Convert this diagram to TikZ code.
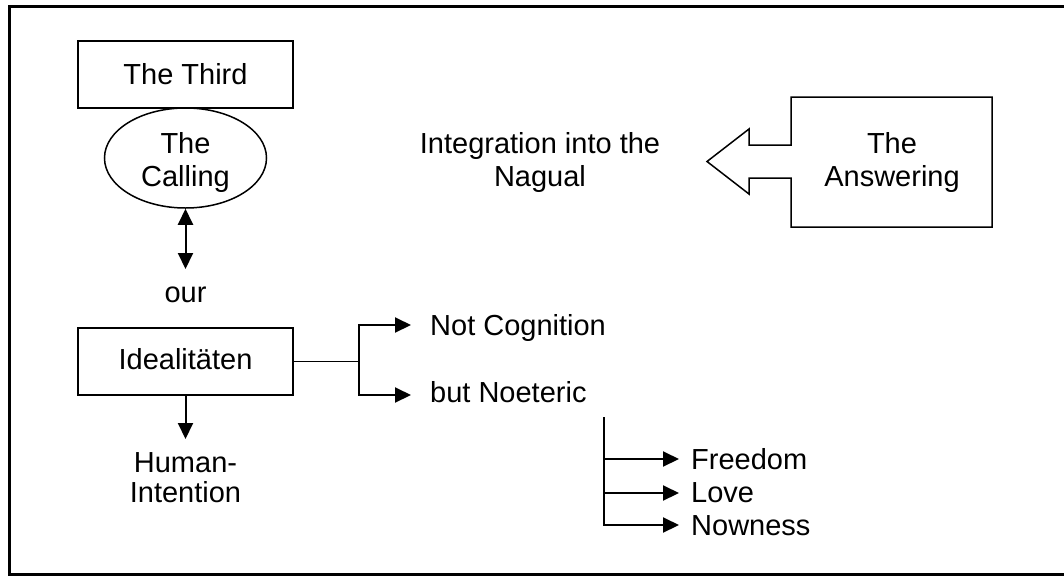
\documentclass[tikz,border=0pt]{standalone}
\usepackage{fontspec}
\setmainfont{Liberation Sans}
\usetikzlibrary{shapes.geometric,arrows.meta}
\begin{document}
\begin{tikzpicture}[x=1pt,y=-1pt,
  txt/.style={font=\fontsize{29}{33}\selectfont, inner sep=0pt, align=center},
  boxshape/.style={draw, line width=1.5pt, inner sep=0pt, minimum width=215pt, minimum height=67pt},
  arr/.style={line width=2pt, -{Triangle[length=16pt,width=15pt]}},
  dbl/.style={line width=2pt, {Triangle[length=16pt,width=15pt]}-{Triangle[length=16pt,width=15pt]}},
  plain/.style={line width=1.5pt}]
\useasboundingbox (0,0) rectangle (1064,576);
\draw[line width=3pt] (9.5,6.5) rectangle (1075,574);

% left column
\node[boxshape, txt, text depth=2pt] (third) at (185.5,74.5) {The Third};
\node[draw, ellipse, line width=1.5pt, inner sep=0pt, minimum width=162pt, minimum height=100pt] (calling) at (185.5,158) {};
\node[txt] (callingtxt) at (185.5,162) {The\\Calling};
\node[txt, anchor=base] (our) at (185.5,302) {our};
\coordinate (ourtop) at (185.5,269);
\draw[dbl] (calling.south) -- (ourtop);

\node[boxshape, txt, text depth=6pt] (ideal) at (185.5,361.5) {Idealitäten};
\coordinate (humtop) at (185.5,439);
\draw[arr] (ideal.south) -- (humtop);
\node[txt, font=\fontsize{29}{30}\selectfont] (human) at (185.5,477.5) {Human-\\Intention};

% fork
\coordinate (fork) at (359,361.5);
\coordinate (ncend) at (411,325);
\coordinate (bnend) at (411,395);
\draw[plain] (ideal.east) -- (fork);
\draw[arr] (fork) |- (ncend);
\draw[arr] (fork) |- (bnend);
\node[txt, anchor=base west] (notcog) at (430,335) {Not Cognition};
\node[txt, anchor=base west] (noet) at (430,402) {but Noeteric};

% right branch
\coordinate (vtop) at (604,417);
\coordinate (vbot) at (604,525);
\coordinate (f1) at (604,459);
\coordinate (f1e) at (679,459);
\coordinate (f2) at (604,493);
\coordinate (f2e) at (679,493);
\coordinate (f3e) at (679,525);
\draw[arr, line join=miter] (vtop) -- (vbot) -- (f3e);
\draw[arr] (f1) -- (f1e);
\draw[arr] (f2) -- (f2e);
\node[txt, anchor=base west] (freedom) at (691,469) {Freedom};
\node[txt, anchor=base west] (love) at (691,502) {Love};
\node[txt, anchor=base west] (nowness) at (691,535) {Nowness};

% answering
\draw[line width=1.5pt, line join=miter] (791,97) -- (992,97) -- (992,227) -- (791,227) -- (791,178) -- (749,178) -- (749,194) -- (707,161.5) -- (749,129) -- (749,145) -- (791,145) -- cycle;
\node[txt] (answer) at (892,162) {The\\Answering};
\node[txt] (integ) at (540,162) {Integration into the\\Nagual};
\end{tikzpicture}
\end{document}
